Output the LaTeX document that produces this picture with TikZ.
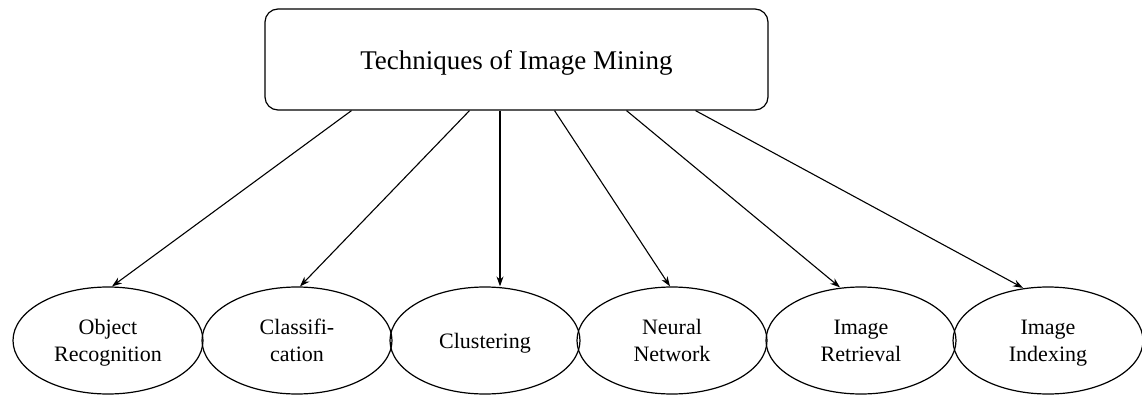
\documentclass[tikz,border=0pt]{standalone}
\usepackage{fontspec}
\setmainfont{Liberation Serif}
\usetikzlibrary{shapes.geometric,arrows.meta,calc}
\begin{document}
\begin{tikzpicture}[x=1pt,y=-1pt,
  line width=1.2pt,
  topbox/.style={draw, rounded corners=13pt, minimum width=503pt, minimum height=101pt,
    inner sep=0pt, text depth=0pt, font=\fontsize{27}{32}\selectfont},
  technique/.style={draw, ellipse, minimum width=190pt, minimum height=107pt, inner sep=0pt,
    align=center, text depth=0pt, font=\fontsize{22}{27}\selectfont},
  link/.style={-{Stealth[length=10pt,width=7pt]}, line width=1.1pt}]
\useasboundingbox (0,0) rectangle (1142,396);

% root of the hierarchy
\node[topbox] (top) at (516.5,59.5) {Techniques of Image Mining};

% the six techniques
\node[technique] (e1) at (108,340.5) {Object\\Recognition};
\node[technique] (e2) at (297,340.5) {Classifi-\\cation};
\node[technique] (e3) at (485,340.5) {Clustering};
\node[technique] (e4) at (672,340.5) {Neural\\Network};
\node[technique] (e5) at (861,340.5) {Image\\Retrieval};
\node[technique] (e6) at (1048,340.5) {Image\\Indexing};

% connectors from the root to each technique
\draw[link] ($(top.south)+(-165,0)$) -- ($(e1.north)+(4,0)$);
\draw[link] ($(top.south)+(-47,0)$) -- ($(e2.north)+(3,0)$);
\draw[link] ($(top.south)+(-16.5,0)$) -- ($(e3.north)+(15,0)$);
\draw[link] ($(top.south)+(38,0)$) -- ($(e4.north)+(-2,0)$);
\draw[link] ($(top.south)+(110,0)$) -- ($(e5.north)+(-21,1)$);
\draw[link] ($(top.south)+(179,0)$) -- ($(e6.north)+(-25,1.5)$);
\end{tikzpicture}
\end{document}
